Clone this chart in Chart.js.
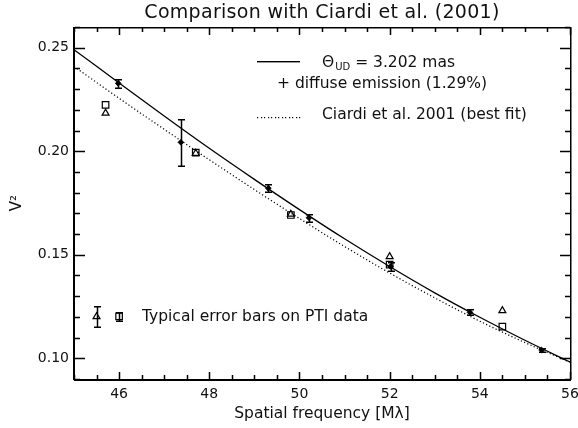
<!DOCTYPE html>
<html>
<head>
<meta charset="utf-8">
<script src="https://cdn.jsdelivr.net/npm/chart.js@4/dist/chart.umd.min.js"></script>
<style>
  html, body { margin: 0; padding: 0; background: #fff; }
  #wrap { width: 578px; height: 428px; }
</style>
</head>
<body>
<div id="wrap"><canvas id="v2Chart" width="578" height="428"></canvas></div>
<script>
// ---- data ----
const freqGrid = [45, 46, 47, 48, 49, 50, 51, 52, 53, 54, 55, 56];
const modelV2  = [0.2490, 0.2330, 0.2170, 0.2014, 0.1864, 0.1718, 0.1577, 0.1443, 0.1316, 0.1198, 0.1087, 0.0982];
const ciardiV2 = [0.2409, 0.2256, 0.2106, 0.1959, 0.1815, 0.1675, 0.1540, 0.1412, 0.1292, 0.1179, 0.1076, 0.0981];

const vltiFreq = [45.98, 47.37, 49.31, 50.21, 52.02, 53.78, 55.37];
const vltiV2   = [0.2328, 0.2043, 0.1821, 0.1679, 0.1443, 0.1222, 0.1040];
const vltiErr  = [0.0023, 0.0114, 0.0020, 0.0020, 0.0020, 0.0015, 0.0012];

const ptiSqFreq  = [45.70, 47.70, 49.81, 52.00, 54.50];
const ptiSqV2    = [0.2224, 0.1993, 0.1692, 0.1452, 0.1153];
const ptiTriFreq = [45.70, 47.70, 49.81, 52.00, 54.50];
const ptiTriV2   = [0.2184, 0.1990, 0.1696, 0.1491, 0.1230];

// typical error bars on PTI data
const typTriFreq = [45.5];
const typTriV2   = [0.1201];
const typTriErr  = [0.0050];
const typSqFreq  = [46.0];
const typSqV2    = [0.1202];
const typSqErr   = [0.0021];

const xTicks = [46, 48, 50, 52, 54, 56];
const yTicks = [0.10, 0.15, 0.20, 0.25];

const FONT = "'DejaVu Sans', sans-serif";

function pts(xs, ys) {
  return xs.map((x, i) => ({ x: x, y: ys[i] }));
}

// frame with inward ticks on all sides + vertical error bars with caps
const overlayPlugin = {
  id: 'overlay',
  afterDatasetsDraw(chart) {
    const ctx = chart.ctx;
    const a = chart.chartArea;
    const xs = chart.scales.x, ys = chart.scales.y;
    ctx.save();
    ctx.fillStyle = '#000';

    chart.data.datasets.forEach(ds => {
      if (!ds.errors) return;
      ds.data.forEach((p, i) => {
        const px = Math.round(xs.getPixelForValue(p.x));
        const top = Math.round(ys.getPixelForValue(p.y + ds.errors[i]));
        const bot = Math.round(ys.getPixelForValue(p.y - ds.errors[i]));
        ctx.fillRect(px - 0.25, top, 1.5, bot - top + 1);
        ctx.fillRect(px - 3, top, 7, 1.5);
        ctx.fillRect(px - 3, bot - 0.5, 7, 1.5);
      });
    });

    const L = Math.round(a.left), R = Math.round(a.right);
    const T = Math.round(a.top), B = Math.round(a.bottom);
    ctx.fillRect(L, T, R - L + 1, 1.5);
    ctx.fillRect(L, B, R - L + 1, 2);
    ctx.fillRect(L - 1, T, 2, B - T + 1);
    ctx.fillRect(R, T, 1.5, B - T + 1);

    // x ticks every 0.5, majors at the labelled values
    for (let k = 90; k <= 112; k++) {
      const v = k / 2;
      const px = Math.round(xs.getPixelForValue(v));
      const len = xTicks.includes(v) ? 7 : 4;
      ctx.fillRect(px - 0.25, B - len, 1.5, len);
      ctx.fillRect(px - 0.25, T + 1, 1.5, len);
    }
    // y ticks every 0.01, majors at the labelled values
    for (let k = 9; k <= 26; k++) {
      const py = Math.round(ys.getPixelForValue(k / 100));
      const len = k % 5 === 0 ? 10 : 5;
      ctx.fillRect(L + 1, py - 0.25, len, 1.5);
      ctx.fillRect(R - len, py - 0.25, len, 1.5);
    }
    ctx.restore();
  }
};

// title and the text legend
const textPlugin = {
  id: 'texts',
  afterDraw(chart) {
    const ctx = chart.ctx;
    const a = chart.chartArea;
    ctx.save();
    ctx.fillStyle = '#111';
    ctx.textBaseline = 'middle';
    ctx.textAlign = 'center';
    ctx.font = '19px ' + FONT;
    ctx.letterSpacing = '0.3px';
    ctx.fillText('Comparison with Ciardi et al. (2001)', (a.left + a.right) / 2, 13);
    ctx.letterSpacing = '0px';

    ctx.textAlign = 'left';
    ctx.fillStyle = '#000';
    ctx.fillRect(257, 61, 43, 1.4);
    for (let dx = 257; dx <= 300; dx += 3.5) {
      ctx.fillRect(Math.round(dx), 117, 1.2, 1.2);
    }

    ctx.fillStyle = '#111';
    ctx.font = '15.5px ' + FONT;
    let x = 322;
    ctx.fillText('\u0398', x, 63);
    x += ctx.measureText('\u0398').width + 1;
    ctx.font = '10px ' + FONT;
    ctx.fillText('UD', x, 67);
    x += ctx.measureText('UD').width;
    ctx.font = '15.5px ' + FONT;
    ctx.fillText(' = 3.202 mas', x, 63);
    ctx.fillText('+ diffuse emission (1.29%)', 277, 84);
    ctx.fillText('Ciardi et al. 2001 (best fit)', 322, 115);
    ctx.fillText('Typical error bars on PTI data', 142, 317);
    ctx.restore();
  }
};

const ctx = document.getElementById('v2Chart').getContext('2d');
new Chart(ctx, {
  type: 'scatter',
  data: {
    datasets: [
      {
        label: 'UD + diffuse emission',
        data: pts(freqGrid, modelV2),
        showLine: true,
        borderColor: '#000',
        borderWidth: 1.3,
        pointRadius: 0,
        cubicInterpolationMode: 'monotone',
        order: 3
      },
      {
        label: 'Ciardi et al. 2001',
        data: pts(freqGrid, ciardiV2),
        showLine: true,
        borderColor: '#000',
        borderWidth: 1.2,
        borderDash: [1.2, 2.3],
        pointRadius: 0,
        cubicInterpolationMode: 'monotone',
        order: 3
      },
      {
        label: 'VLTI',
        data: pts(vltiFreq, vltiV2),
        errors: vltiErr,
        pointStyle: 'rectRot',
        pointRadius: 2.8,
        backgroundColor: '#000',
        borderColor: '#000',
        borderWidth: 1,
        order: 1
      },
      {
        label: 'PTI squares',
        data: pts(ptiSqFreq, ptiSqV2),
        pointStyle: 'rect',
        pointRadius: 4.6,
        backgroundColor: 'rgba(0,0,0,0)',
        borderColor: '#000',
        borderWidth: 1.2,
        order: 2
      },
      {
        label: 'PTI triangles',
        data: pts(ptiTriFreq, ptiTriV2),
        pointStyle: 'triangle',
        pointRadius: 4,
        backgroundColor: 'rgba(0,0,0,0)',
        borderColor: '#000',
        borderWidth: 1.2,
        order: 2
      },
      {
        label: 'typical triangle',
        data: pts(typTriFreq, typTriV2),
        errors: typTriErr,
        pointStyle: 'triangle',
        pointRadius: 4,
        backgroundColor: 'rgba(0,0,0,0)',
        borderColor: '#000',
        borderWidth: 1.2,
        order: 2
      },
      {
        label: 'typical square',
        data: pts(typSqFreq, typSqV2),
        errors: typSqErr,
        pointStyle: 'rect',
        pointRadius: 4.6,
        backgroundColor: 'rgba(0,0,0,0)',
        borderColor: '#000',
        borderWidth: 1.2,
        order: 2
      }
    ]
  },
  options: {
    responsive: false,
    animation: false,
    events: [],
    layout: { padding: { left: 0, right: 8, top: 27, bottom: 0 } },
    plugins: {
      legend: { display: false },
      title: { display: false },
      tooltip: { enabled: false }
    },
    scales: {
      x: {
        type: 'linear',
        min: 45,
        max: 56,
        afterBuildTicks: s => { s.ticks = xTicks.map(v => ({ value: v })); },
        afterFit: s => { s.height = 49; s.paddingLeft = 0; s.paddingRight = 0; },
        grid: { display: false, drawTicks: false },
        border: { display: false },
        ticks: {
          color: '#111',
          padding: 7,
          font: { family: FONT, size: 14 },
          maxRotation: 0,
          callback: v => String(v)
        },
        title: {
          display: true,
          text: 'Spatial frequency [M\u03bb]',
          color: '#111',
          font: { family: FONT, size: 15.5 },
          padding: { top: 0, bottom: 5 }
        }
      },
      y: {
        type: 'linear',
        min: 0.09,
        max: 0.26,
        afterBuildTicks: s => { s.ticks = yTicks.map(v => ({ value: v })); },
        afterFit: s => { s.width = 74; s.paddingTop = 0; s.paddingBottom = 0; },
        grid: { display: false, drawTicks: false },
        border: { display: false },
        ticks: {
          color: '#111',
          padding: 5,
          font: { family: FONT, size: 14 },
          callback: v => v.toFixed(2)
        },
        title: {
          display: true,
          text: 'V\u00b2',
          color: '#111',
          font: { family: FONT, size: 15 },
          padding: { top: 8, bottom: 0 }
        }
      }
    }
  },
  plugins: [overlayPlugin, textPlugin]
});
</script>
</body>
</html>
